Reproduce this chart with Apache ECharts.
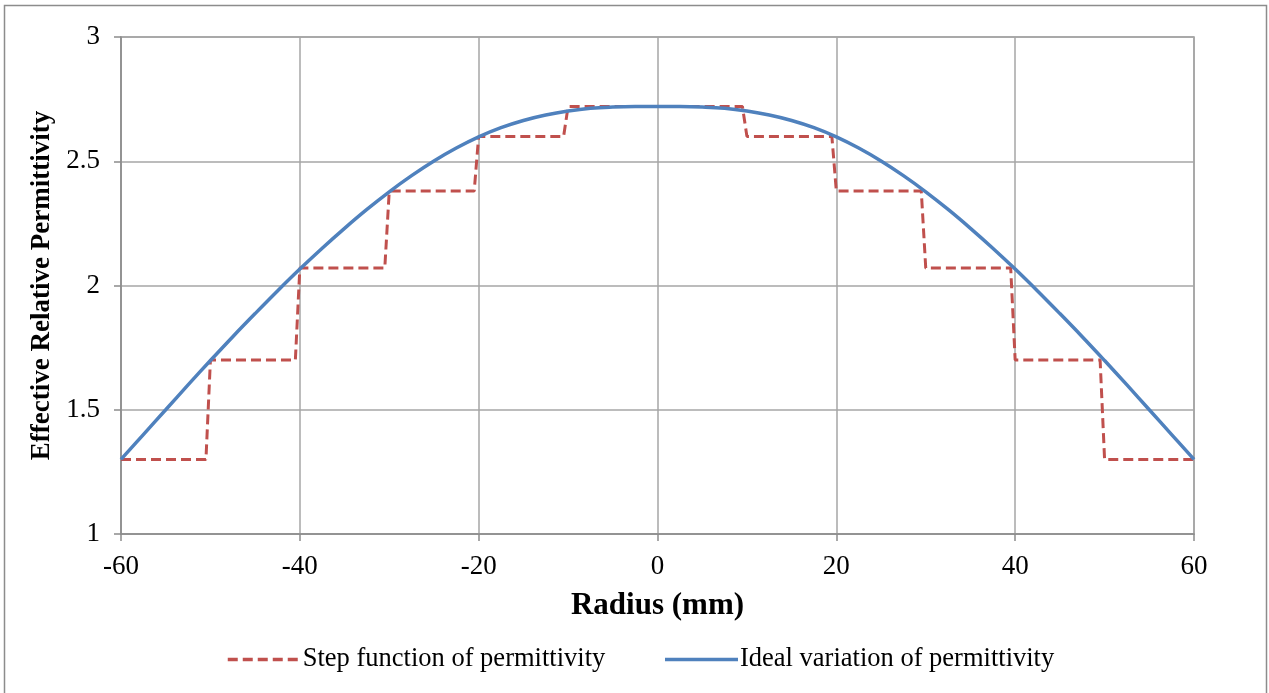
<!DOCTYPE html>
<html>
<head>
<meta charset="utf-8">
<script src="https://cdn.jsdelivr.net/npm/echarts@6/dist/echarts.min.js"></script>
<style>
  html, body { margin: 0; padding: 0; background: #fff; }
  #chart { width: 1269px; height: 693px; }
</style>
</head>
<body>
<div id="chart"></div>
<script>
// radius (mm) and permittivity
var stepX = [-60, -50.5, -50, -40.5, -40, -30.5, -30, -20.5, -20, -10.5, -10, 9.5, 10, 19.5, 20, 29.5, 30, 39.5, 40, 49.5, 50, 60];
var stepY = [1.3, 1.3, 1.7, 1.7, 2.07, 2.07, 2.38, 2.38, 2.6, 2.6, 2.72, 2.72, 2.6, 2.6, 2.38, 2.38, 2.07, 2.07, 1.7, 1.7, 1.3, 1.3];

var idealX = [-60, -57.5, -55, -52.5, -50, -47.5, -45, -42.5, -40, -37.5, -35, -32.5, -30, -27.5, -25, -22.5, -20, -17.5, -15, -12.5, -10, -7.5, -5, -2.5, 0,
              2.5, 5, 7.5, 10, 12.5, 15, 17.5, 20, 22.5, 25, 27.5, 30, 32.5, 35, 37.5, 40, 42.5, 45, 47.5, 50, 52.5, 55, 57.5, 60];
var idealY = [1.3, 1.4, 1.5, 1.6, 1.698, 1.794, 1.887, 1.978, 2.066, 2.15, 2.23, 2.306, 2.377, 2.442, 2.501, 2.553, 2.598, 2.635, 2.664, 2.686, 2.702, 2.713, 2.718, 2.72, 2.72,
              2.72, 2.718, 2.713, 2.702, 2.686, 2.664, 2.635, 2.598, 2.553, 2.501, 2.442, 2.377, 2.306, 2.23, 2.15, 2.066, 1.978, 1.887, 1.794, 1.698, 1.6, 1.5, 1.4, 1.3];

var seriesNames = ['Step function of permittivity', 'Ideal variation of permittivity'];

function pairs(xs, ys) {
    var out = [];
    for (var i = 0; i < xs.length; i++) out.push([xs[i], ys[i]]);
    return out;
}

var font = '"Liberation Serif", "Times New Roman", serif';
var axisGrey = '#8c8c8c';

var option = {
    animation: false,
    backgroundColor: '#fff',
    textStyle: { fontFamily: font },
    graphic: [{
        type: 'rect',
        shape: { x: 4.5, y: 5.5, width: 1262, height: 700 },
        style: { fill: 'none', stroke: axisGrey, lineWidth: 1.5 },
        silent: true
    }],
    grid: {
        left: 121, right: 75, top: 37, bottom: 159,
        show: true,
        borderColor: '#9a9a9a',
        borderWidth: 1.5
    },
    legend: {
        left: 221,
        top: 641,
        itemWidth: 73,
        itemHeight: 14,
        itemGap: 58,
        itemStyle: { opacity: 0 },
        lineStyle: { width: 3.5 },
        textStyle: { fontFamily: font, fontSize: 26.5, color: '#000', padding: [0, 0, 0, -3] },
        data: seriesNames
    },
    xAxis: {
        type: 'value',
        min: -60, max: 60, interval: 20,
        name: 'Radius (mm)',
        nameLocation: 'middle',
        nameGap: 56,
        nameTextStyle: { fontFamily: font, fontSize: 31, fontWeight: 'bold', color: '#000' },
        axisLine: { onZero: false, lineStyle: { color: axisGrey, width: 1.5 } },
        axisTick: { show: true, inside: false, length: 7, lineStyle: { color: axisGrey, width: 1.5 } },
        axisLabel: { fontFamily: font, fontSize: 27, color: '#000', margin: 19 },
        splitLine: { show: true, lineStyle: { color: '#a6a6a6', width: 1.5 } }
    },
    yAxis: {
        type: 'value',
        min: 1, max: 3, interval: 0.5,
        name: 'Effective Relative Permittivity',
        nameLocation: 'middle',
        nameGap: 61,
        nameTextStyle: { fontFamily: font, fontSize: 27, fontWeight: 'bold', color: '#000' },
        axisLine: { show: true, onZero: false, lineStyle: { color: axisGrey, width: 1.5 } },
        axisTick: { show: true, inside: false, length: 7, lineStyle: { color: axisGrey, width: 1.5 } },
        axisLabel: { fontFamily: font, fontSize: 27, color: '#000', margin: 21 },
        splitLine: { show: true, lineStyle: { color: '#a6a6a6', width: 1.5 } }
    },
    series: [
        {
            name: seriesNames[0],
            type: 'line',
            symbol: 'none',
            data: pairs(stepX, stepY),
            itemStyle: { color: '#C0504D' },
            lineStyle: { color: '#C0504D', width: 3, type: [10, 5] },
            z: 3
        },
        {
            name: seriesNames[1],
            type: 'line',
            symbol: 'none',
            smooth: 0.4,
            data: pairs(idealX, idealY),
            itemStyle: { color: '#4F81BD' },
            lineStyle: { color: '#4F81BD', width: 3.5 },
            z: 4
        }
    ]
};

echarts.init(document.getElementById('chart')).setOption(option);
</script>
</body>
</html>
